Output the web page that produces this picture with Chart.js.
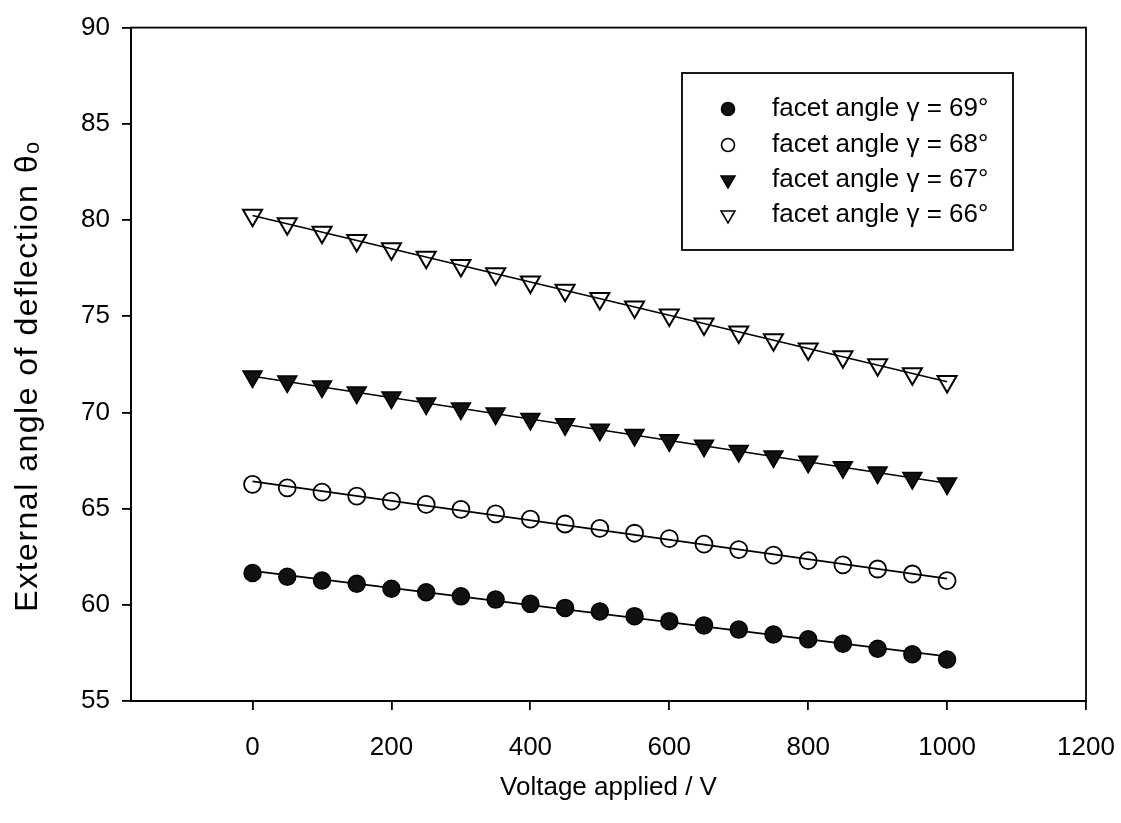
<!DOCTYPE html>
<html>
<head>
<meta charset="utf-8">
<script src="https://cdn.jsdelivr.net/npm/chart.js@4/dist/chart.umd.min.js"></script>
<style>
  html, body { margin: 0; padding: 0; background: #fff; }
  #wrap { width: 1121px; height: 823px; }
</style>
</head>
<body>
<div id="wrap"><canvas id="c" width="1121" height="823"></canvas></div>
<script>
// ---- data ----
const voltages = [0, 50, 100, 150, 200, 250, 300, 350, 400, 450, 500, 550, 600, 650, 700, 750, 800, 850, 900, 950, 1000];
const angle69 = [61.65, 61.46, 61.26, 61.09, 60.83, 60.65, 60.44, 60.27, 60.05, 59.84, 59.65, 59.41, 59.15, 58.93, 58.71, 58.46, 58.21, 57.98, 57.72, 57.43, 57.16];
const angle68 = [66.26, 66.08, 65.86, 65.65, 65.39, 65.22, 64.96, 64.73, 64.45, 64.20, 63.97, 63.72, 63.44, 63.15, 62.87, 62.58, 62.30, 62.08, 61.86, 61.60, 61.26];
const angle67 = [71.86, 71.60, 71.34, 71.03, 70.77, 70.46, 70.20, 69.94, 69.66, 69.38, 69.10, 68.82, 68.55, 68.27, 67.99, 67.71, 67.43, 67.15, 66.87, 66.59, 66.30];
const angle66 = [80.25, 79.80, 79.36, 78.93, 78.50, 78.06, 77.63, 77.20, 76.78, 76.35, 75.92, 75.48, 75.06, 74.60, 74.18, 73.77, 73.30, 72.89, 72.48, 72.01, 71.60];
const seriesLabels = ['facet angle γ = 69°', 'facet angle γ = 68°', 'facet angle γ = 67°', 'facet angle γ = 66°'];
const xTickValues = [0, 200, 400, 600, 800, 1000, 1200];
const xTitle = 'Voltage applied / V';
const yTitle = 'External angle of deflection θₒ';

const FONT = "'Liberation Sans', Arial, Helvetica, sans-serif";

function pts(ys) { return voltages.map((v, i) => ({ x: v, y: ys[i] })); }
// least-squares fit line of each series (as the original plot shows)
function fit(ys) {
  const n = voltages.length;
  const mx = voltages.reduce((a, b) => a + b, 0) / n;
  const my = ys.reduce((a, b) => a + b, 0) / n;
  let sxy = 0, sxx = 0;
  for (let i = 0; i < n; i++) { sxy += (voltages[i] - mx) * (ys[i] - my); sxx += (voltages[i] - mx) ** 2; }
  const b = sxy / sxx, a = my - b * mx;
  const x0 = voltages[0], x1 = voltages[n - 1];
  return [{ x: x0, y: a + b * x0 }, { x: x1, y: a + b * x1 }];
}

const styles = [
  { ys: angle69, pointStyle: 'circle', radius: 8.5, bg: '#111', bw: 1.5, rot: 0 },
  { ys: angle68, pointStyle: 'circle', radius: 8.5, bg: 'rgba(0,0,0,0)', bw: 1.8, rot: 0 },
  { ys: angle67, pointStyle: 'triangle', radius: 11, bg: '#111', bw: 1.5, rot: 180 },
  { ys: angle66, pointStyle: 'triangle', radius: 11, bg: 'rgba(0,0,0,0)', bw: 2, rot: 180 }
];

const datasets = [];
styles.forEach((s, i) => {
  datasets.push({
    label: seriesLabels[i],
    data: pts(s.ys),
    showLine: false,
    pointStyle: s.pointStyle,
    pointRadius: s.radius,
    pointRotation: s.rot,
    pointBackgroundColor: s.bg,
    pointBorderColor: '#000',
    pointBorderWidth: s.bw,
    order: 1
  });
});
styles.forEach((s, i) => {
  datasets.push({
    label: 'fit ' + seriesLabels[i],
    data: fit(s.ys),
    showLine: true,
    borderColor: '#000',
    borderWidth: 1.6,
    pointRadius: 0,
    fill: false,
    order: 2
  });
});

const framePlugin = {
  id: 'frame',
  afterDraw(chart) {
    const { ctx, chartArea: a } = chart;
    ctx.save();
    ctx.strokeStyle = '#000';
    ctx.lineWidth = 1.8;
    ctx.strokeRect(a.left, a.top, a.right - a.left, a.bottom - a.top);
    ctx.restore();
  }
};

const yTitlePlugin = {
  id: 'yTitle',
  afterDraw(chart) {
    const { ctx } = chart;
    ctx.save();
    ctx.translate(28, 376);
    ctx.rotate(-Math.PI / 2);
    ctx.font = '32px ' + FONT;
    if ('letterSpacing' in ctx) ctx.letterSpacing = '1.5px';
    ctx.fillStyle = '#000';
    ctx.textAlign = 'center';
    ctx.textBaseline = 'middle';
    ctx.fillText(yTitle, 0, 0);
    ctx.restore();
  }
};

function drawMarker(ctx, kind, x, y) {
  ctx.save();
  ctx.strokeStyle = '#000';
  ctx.fillStyle = '#111';
  ctx.lineWidth = 1.6;
  if (kind === 0 || kind === 1) {
    ctx.beginPath();
    ctx.arc(x, y, 6.5, 0, Math.PI * 2);
    if (kind === 0) ctx.fill();
    ctx.stroke();
  } else {
    const r = 8;
    ctx.beginPath();
    ctx.moveTo(x - r * 0.866, y - r * 0.5);
    ctx.lineTo(x + r * 0.866, y - r * 0.5);
    ctx.lineTo(x, y + r);
    ctx.closePath();
    if (kind === 2) ctx.fill();
    ctx.stroke();
  }
  ctx.restore();
}

const legendPlugin = {
  id: 'boxLegend',
  afterDraw(chart) {
    const { ctx } = chart;
    const box = { l: 682, t: 73, r: 1013, b: 250 };
    ctx.save();
    ctx.strokeStyle = '#000';
    ctx.lineWidth = 1.8;
    ctx.strokeRect(box.l, box.t, box.r - box.l, box.b - box.t);
    ctx.font = '26px ' + FONT;
    ctx.fillStyle = '#000';
    ctx.textBaseline = 'middle';
    ctx.textAlign = 'left';
    const rows = [109, 145, 180, 215];
    seriesLabels.forEach((lab, i) => {
      drawMarker(ctx, i, 728, rows[i]);
      ctx.fillText(lab, 772, rows[i]);
    });
    ctx.restore();
  }
};

new Chart(document.getElementById('c'), {
  type: 'scatter',
  data: { datasets },
  options: {
    responsive: false,
    animation: false,
    devicePixelRatio: 1,
    layout: { padding: { top: 24, right: 35, bottom: 0, left: 0 } },
    plugins: { legend: { display: false }, tooltip: { enabled: false } },
    scales: {
      x: {
        type: 'linear',
        min: -175,
        max: 1200,
        afterBuildTicks: (s) => { s.ticks = xTickValues.map(v => ({ value: v })); },
        afterFit: (s) => { s.height = 122; s.paddingLeft = 0; s.paddingRight = 0; },
        grid: { display: true, drawOnChartArea: false, drawTicks: true, tickLength: 9, color: '#000', lineWidth: 1.8 },
        border: { display: true, color: '#000', width: 1.8 },
        ticks: { color: '#000', font: { family: FONT, size: 26 }, padding: 22, maxRotation: 0, callback: (v) => String(v) },
        title: { display: true, text: xTitle, color: '#000', font: { family: FONT, size: 26 }, padding: { top: 4, bottom: 20 } }
      },
      y: {
        type: 'linear',
        min: 55,
        max: 90,
        afterFit: (s) => { s.width = 131; },
        grid: { display: true, drawOnChartArea: false, drawTicks: true, tickLength: 9, color: '#000', lineWidth: 1.8 },
        border: { display: true, color: '#000', width: 1.8 },
        ticks: { stepSize: 5, color: '#000', font: { family: FONT, size: 26 }, padding: 12, callback: (v) => String(v) },
        title: { display: false }
      }
    }
  },
  plugins: [framePlugin, legendPlugin, yTitlePlugin]
});
</script>
</body>
</html>
